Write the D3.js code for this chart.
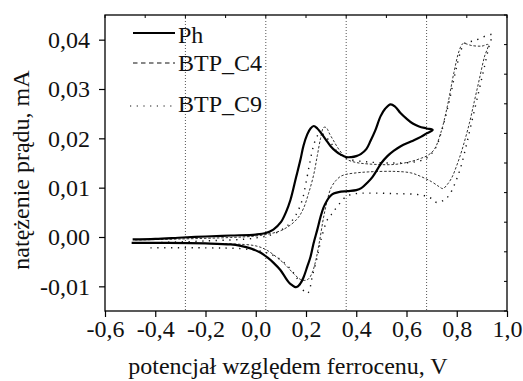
<!DOCTYPE html>
<html>
<head>
<meta charset="utf-8">
<script src="https://cdn.jsdelivr.net/npm/d3@7"></script>
<style>
  body { margin: 0; background: #fff; }
  svg { display: block; }
  svg text { font-family: "Liberation Serif", "DejaVu Serif", serif; }
</style>
</head>
<body>
<div id="chart"></div>
<script>
// tick labels
const xTicks = [-0.6, -0.4, -0.2, 0.0, 0.2, 0.4, 0.6, 0.8, 1.0];
const yTicks = [-0.01, 0.00, 0.01, 0.02, 0.03, 0.04];
// dotted vertical guide lines (potential, V)
const guideLines = [-0.28, 0.04, 0.36, 0.68];

const seriesNames = ["Ph", "BTP_C4", "BTP_C9"];

// Ph : [potential V, current mA]
const phForward = [[-0.49,-0.0005],[-0.4,-0.0004],[-0.29,-0.0001],[-0.2,0.0001],[-0.1,0.0003],[0,0.0005],[0.04,0.0008],[0.07,0.0015],[0.1,0.003],[0.12,0.005],[0.138,0.0075],[0.16,0.012],[0.178,0.0157],[0.19,0.0185],[0.205,0.0208],[0.218,0.022],[0.231,0.0225],[0.245,0.022],[0.258,0.0212],[0.278,0.0198],[0.298,0.0184],[0.318,0.0174],[0.338,0.0167],[0.36,0.0162],[0.38,0.0162],[0.4,0.0164],[0.418,0.0168],[0.44,0.0178],[0.457,0.0195],[0.475,0.0215],[0.497,0.0245],[0.515,0.026],[0.537,0.0269],[0.555,0.0264],[0.575,0.0252],[0.6,0.024],[0.625,0.023],[0.65,0.0224],[0.68,0.022],[0.704,0.0217]];
const phReverse = [[0.704,0.0217],[0.68,0.021],[0.657,0.0203],[0.62,0.0194],[0.577,0.0184],[0.55,0.0175],[0.524,0.0164],[0.5,0.015],[0.484,0.0137],[0.465,0.0122],[0.444,0.011],[0.42,0.0099],[0.4,0.0095],[0.365,0.0093],[0.33,0.0091],[0.31,0.0088],[0.295,0.0082],[0.285,0.0075],[0.27,0.006],[0.258,0.0041],[0.245,0.0015],[0.23,-0.0013],[0.218,-0.004],[0.205,-0.006],[0.19,-0.0082],[0.178,-0.0094],[0.165,-0.0101],[0.155,-0.0101],[0.14,-0.0096],[0.13,-0.0091],[0.115,-0.008],[0.098,-0.0067],[0.07,-0.0052],[0.045,-0.0041],[0.02,-0.0032],[-0.021,-0.0023],[-0.06,-0.0018],[-0.1,-0.0015],[-0.2,-0.0013],[-0.35,-0.0012],[-0.494,-0.0012]];

// BTP_C4
const c4Forward = [[-0.48,-0.0006],[-0.3,-0.0004],[-0.1,-0.0001],[0,0.0002],[0.06,0.0007],[0.1,0.0013],[0.14,0.0025],[0.17,0.004],[0.19,0.0058],[0.21,0.0088],[0.23,0.0125],[0.245,0.0165],[0.258,0.02],[0.27,0.0222],[0.28,0.0222],[0.295,0.0208],[0.31,0.0195],[0.325,0.0182],[0.345,0.0168],[0.365,0.0157],[0.4,0.0151],[0.45,0.0148],[0.55,0.0147],[0.617,0.0153],[0.66,0.016],[0.683,0.0165],[0.71,0.0177],[0.737,0.0212],[0.763,0.0266],[0.789,0.0334],[0.81,0.0378],[0.825,0.0392],[0.86,0.0388],[0.9,0.0387],[0.925,0.039]];
const c4Reverse = [[0.925,0.039],[0.91,0.0365],[0.89,0.032],[0.87,0.0275],[0.85,0.023],[0.82,0.0175],[0.8,0.0145],[0.78,0.012],[0.76,0.0105],[0.745,0.0098],[0.73,0.0102],[0.7,0.0112],[0.66,0.0122],[0.617,0.013],[0.55,0.0133],[0.45,0.0132],[0.4,0.013],[0.36,0.0127],[0.338,0.0123],[0.32,0.0115],[0.3,0.01],[0.285,0.0075],[0.27,0.004],[0.255,-0.0005],[0.24,-0.0045],[0.225,-0.0072],[0.21,-0.0085],[0.195,-0.0088],[0.178,-0.0086],[0.15,-0.0074],[0.125,-0.006],[0.1,-0.0048],[0.045,-0.0027],[0,-0.0018],[-0.1,-0.0014],[-0.3,-0.0013],[-0.48,-0.0013]];

// BTP_C9
const c9Forward = [[-0.43,-0.0012],[-0.2,-0.0008],[0,-0.0002],[0.08,0.0008],[0.13,0.0025],[0.16,0.0045],[0.185,0.0075],[0.2,0.011],[0.215,0.015],[0.23,0.0185],[0.245,0.0205],[0.26,0.021],[0.275,0.0205],[0.3,0.019],[0.33,0.017],[0.37,0.0158],[0.45,0.0152],[0.55,0.015],[0.63,0.0152],[0.68,0.016],[0.715,0.018],[0.74,0.0215],[0.77,0.0275],[0.795,0.0335],[0.815,0.0375],[0.83,0.0392],[0.87,0.0398],[0.94,0.041]];
const c9Reverse = [[0.94,0.041],[0.93,0.039],[0.91,0.0345],[0.89,0.03],[0.865,0.0245],[0.84,0.019],[0.815,0.014],[0.79,0.0105],[0.77,0.0085],[0.75,0.0075],[0.72,0.007],[0.7,0.0078],[0.66,0.0085],[0.55,0.0088],[0.45,0.0089],[0.4,0.0088],[0.36,0.0082],[0.325,0.0062],[0.3,0.0045],[0.285,0.0035],[0.26,-0.0005],[0.245,-0.004],[0.225,-0.008],[0.21,-0.0112],[0.2,-0.0114],[0.185,-0.0105],[0.16,-0.008],[0.12,-0.0055],[0.08,-0.004],[0.03,-0.003],[-0.05,-0.0024],[-0.2,-0.0022],[-0.43,-0.0022]];

const W = 523, H = 381;
const margin = {top: 15, left: 105, right: 16, bottom: 70};
const font = '"Liberation Serif", "DejaVu Serif", serif';

const svg = d3.select("#chart").append("svg")
  .attr("width", W)
  .attr("height", H);

const x = d3.scaleLinear().domain([-0.6, 1.0]).range([margin.left, W - margin.right]);
const y = d3.scaleLinear().domain([-0.015, 0.045]).range([H - margin.bottom, margin.top]);

const fmt = (digits) => (d) => d.toFixed(digits).replace(".", ",");

// guide lines
svg.append("g").selectAll("line")
  .data(guideLines)
  .enter()
  .append("line")
  .attr("x1", d => x(d)).attr("x2", d => x(d))
  .attr("y1", y.range()[1]).attr("y2", y.range()[0])
  .attr("stroke", "#555")
  .attr("stroke-width", 1)
  .attr("stroke-dasharray", "1,2");

// minor inward ticks on top and right
const topTicks = d3.range(11).map(i => -0.6 + i * 0.16);
const rightTicks = d3.range(11).map(i => -0.015 + i * 0.006);
svg.append("g").selectAll("line")
  .data(topTicks)
  .enter()
  .append("line")
  .attr("x1", d => x(d)).attr("x2", d => x(d))
  .attr("y1", margin.top).attr("y2", margin.top + 3)
  .attr("stroke", "#000");
svg.append("g").selectAll("line")
  .data(rightTicks)
  .enter()
  .append("line")
  .attr("x1", W - margin.right - 3).attr("x2", W - margin.right)
  .attr("y1", d => y(d)).attr("y2", d => y(d))
  .attr("stroke", "#000");

// axes
const xAxis = svg.append("g")
  .attr("transform", `translate(0,${H - margin.bottom})`)
  .call(d3.axisBottom(x).tickValues(xTicks).tickFormat(fmt(1)).tickSize(6).tickPadding(3));
const yAxis = svg.append("g")
  .attr("transform", `translate(${margin.left},0)`)
  .call(d3.axisLeft(y).tickValues(yTicks).tickFormat(fmt(2)).tickSize(6).tickPadding(9));
[xAxis, yAxis].forEach(a => {
  a.attr("font-family", null).attr("font-size", null);
  a.select(".domain").remove();
  a.selectAll("line").attr("stroke", "#000").attr("stroke-width", 1.2);
  a.selectAll("text")
    .style("font-family", font)
    .style("font-size", "24px")
    .attr("fill", "#111");
});

// frame
svg.append("rect")
  .attr("x", margin.left)
  .attr("y", margin.top)
  .attr("width", W - margin.left - margin.right)
  .attr("height", H - margin.top - margin.bottom)
  .attr("fill", "none")
  .attr("stroke", "#000")
  .attr("stroke-width", 1.3);

// curves
const line = d3.line()
  .x(d => x(d[0]))
  .y(d => y(d[1]))
  .curve(d3.curveCatmullRom.alpha(0.5));

const styles = [
  {data: phForward.concat(phReverse.slice(1)), stroke: "#000", width: 2.2, dash: null},
  {data: c4Forward.concat(c4Reverse.slice(1)), stroke: "#333", width: 1, dash: "2.5,1.8"},
  {data: c9Forward.concat(c9Reverse.slice(1)), stroke: "#111", width: 1.4, dash: "1.3,5.5"}
];

svg.append("g").selectAll("path")
  .data(styles.slice().reverse())
  .enter()
  .append("path")
  .attr("d", d => line(d.data))
  .attr("fill", "none")
  .attr("stroke", d => d.stroke)
  .attr("stroke-width", d => d.width)
  .attr("stroke-dasharray", d => d.dash);

// legend
const legendRows = [
  {y: 33, ty: 43, x1: 133, x2: 175, stroke: "#000", width: 2.2, dash: null},
  {y: 63, ty: 71, x1: 133, x2: 175, stroke: "#111", width: 1.2, dash: "4.5,3.5"},
  {y: 106, ty: 112, x1: 130, x2: 174, stroke: "#111", width: 1.2, dash: "1.2,5.5"}
];
const legend = svg.append("g");
legendRows.forEach((r, i) => {
  legend.append("line")
    .attr("x1", r.x1).attr("x2", r.x2)
    .attr("y1", r.y).attr("y2", r.y)
    .attr("stroke", r.stroke)
    .attr("stroke-width", r.width)
    .attr("stroke-dasharray", r.dash);
  legend.append("text")
    .attr("x", 178)
    .attr("y", r.ty)
    .style("font-family", font)
    .style("font-size", "24px")
    .attr("fill", "#111")
    .text(seriesNames[i]);
});

// axis titles
svg.append("text")
  .attr("x", 288)
  .attr("y", 374)
  .attr("text-anchor", "middle")
  .style("font-family", font)
  .style("font-size", "24px")
  .attr("fill", "#111")
  .text("potencjał względem ferrocenu, V");
svg.append("text")
  .attr("transform", "translate(29,170) rotate(-90)")
  .attr("text-anchor", "middle")
  .style("font-family", font)
  .style("font-size", "24px")
  .attr("fill", "#111")
  .text("natężenie prądu, mA");
</script>
</body>
</html>
